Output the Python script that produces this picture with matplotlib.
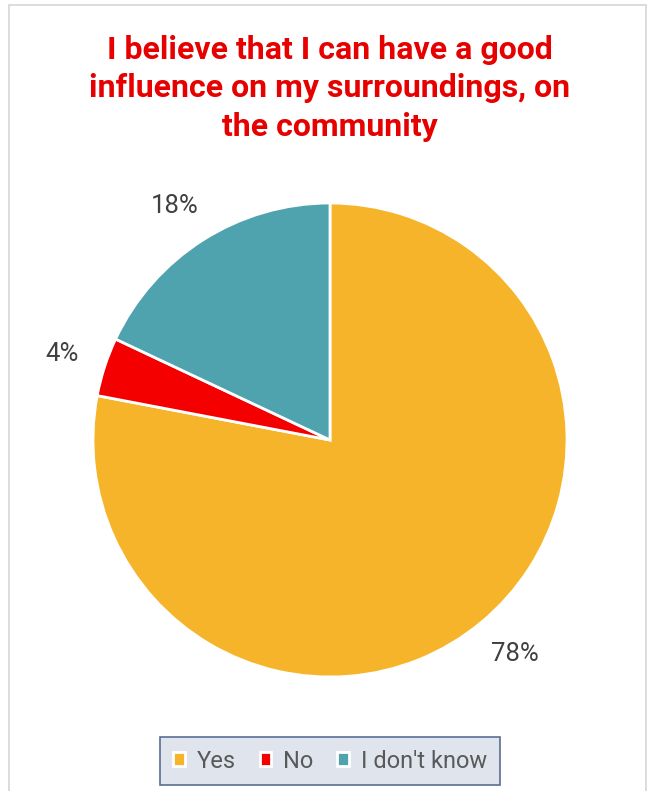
import numpy as np
import matplotlib
matplotlib.use("Agg")
import matplotlib.pyplot as plt
from matplotlib.patches import Rectangle

# Survey answers
categories = ["Yes", "No", "I don't know"]
shares = [78, 4, 18]
colors = ["#F6B42A", "#F50000", "#4EA3AF"]

title = "I believe that I can have a good\ninfluence on my surroundings, on\nthe community"

W, H = 655, 791
fig = plt.figure(figsize=(W / 100, H / 100), dpi=100)

# light frame around the chart area
fig.patches.append(Rectangle((9 / W, -0.05), 637 / W, 1.05 - 5 / H,
                             transform=fig.transFigure, fill=False,
                             edgecolor="#D6D6D6", linewidth=1.2))

# pie centred at (330, 440) px, radius ~237 px
r = 237
ax = fig.add_axes([(330 - r) / W, (H - 440 - r) / H, 2 * r / W, 2 * r / H])
wedges, _ = ax.pie(shares, colors=colors, startangle=90, counterclock=False,
                   wedgeprops=dict(edgecolor="white", linewidth=2))
ax.set_xlim(-1, 1)
ax.set_ylim(-1, 1)
ax.set_aspect("equal")

# outside-end labels: text box pushed outward from a point just past the rim
labels = []
for w, v in zip(wedges, shares):
    theta = np.deg2rad((w.theta1 + w.theta2) / 2)
    c, s = np.cos(theta), np.sin(theta)
    t = ax.annotate(f"{v}%", xy=(1.12 * c, 1.12 * s), xytext=(0, 0),
                    textcoords="offset points", ha="center", va="center",
                    fontsize=18.5, color="#404040", family="Roboto",
                    annotation_clip=False)
    labels.append((t, c, s))

fig.canvas.draw()
for t, c, s in labels:
    bb = t.get_window_extent()
    t.xyann = (bb.width / 2 * c * 0.72, bb.height / 2 * s * 0.72)

fig.text(330 / W, 1 - 35 / H, title, ha="center", va="top",
         fontsize=23, fontweight="bold", color="#E60000",
         family="Roboto", linespacing=1.35)

leg = fig.legend(wedges, categories, loc="center", ncol=3,
                 bbox_to_anchor=(330 / W, 1 - 761 / H),
                 frameon=True, fancybox=False, framealpha=1,
                 facecolor="#DFE4ED", edgecolor="#5A6E93",
                 prop=dict(family="Roboto", size=17),
                 handlelength=0.5, handleheight=0.5, handletextpad=0.5,
                 columnspacing=1.0, borderpad=0.55)
leg.get_frame().set_linewidth(1.2)
for t in leg.get_texts():
    t.set_color("#595959")
for h in leg.legend_handles:
    h.set_edgecolor("white")

fig.savefig("out.png", dpi=100)
